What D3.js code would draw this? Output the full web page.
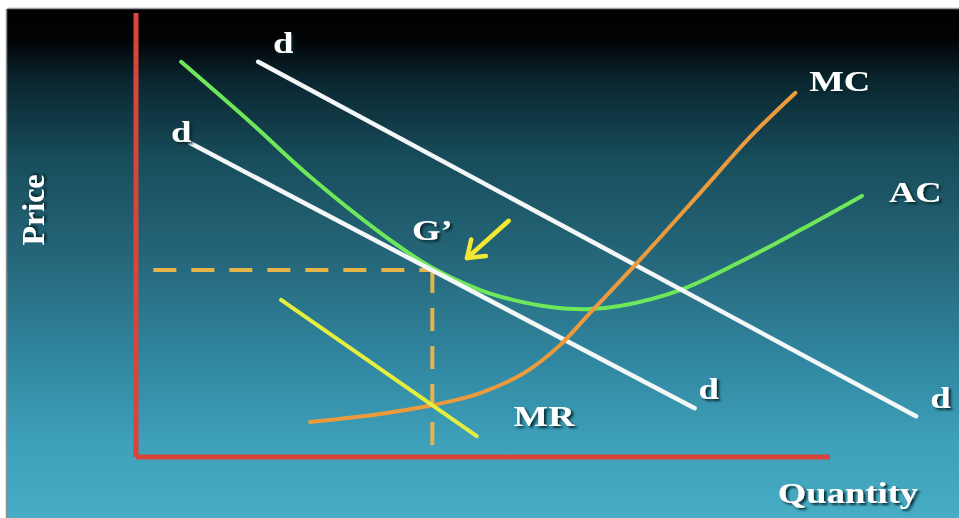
<!DOCTYPE html>
<html>
<head>
<meta charset="utf-8">
<script src="https://cdn.jsdelivr.net/npm/d3@7/dist/d3.min.js"></script>
<style>
  html, body { margin: 0; padding: 0; background: #ffffff; overflow: hidden; }
  svg { display: block; }
</style>
</head>
<body>
<svg id="chart" width="959" height="518"></svg>
<script>
// Monopolistic competition: long-run adjustment of demand toward the AC tangency point G'

// Demand curves (quantity, price)
const demandHigh = [[17.6, 89.0], [112.4, 9.2]];
const demandLow  = [[7.8, 70.7], [80.5, 11.0]];

// Marginal revenue for the lower demand curve
const marginalRevenue = [[20.9, 35.4], [49.1, 4.7]];

// Average cost (U-shaped)
const averageCost = [
  [6.5, 89.0], [16.4, 75.5], [25.1, 63.1], [35.2, 50.5], [42.7, 42.6],
  [49.6, 37.6], [54.3, 35.4], [59.7, 33.8], [65.0, 33.3], [69.7, 34.0],
  [78.4, 37.6], [87.0, 43.9], [95.7, 51.1], [104.6, 58.8]
];

// Marginal cost
const marginalCost = [
  [25.1, 7.9], [35.2, 9.7], [42.8, 11.7], [49.6, 14.4], [56.1, 19.1],
  [61.1, 25.2], [65.4, 32.4], [72.6, 44.4], [81.3, 59.5], [88.5, 72.1],
  [95.0, 82.0]
];

// Equilibrium G' (quantity, price)
const equilibrium = [42.7, 42.1];

// Arrow showing demand shifting inward
const shiftArrow = [[53.7, 53.2], [47.7, 44.8]];

// Curve labels: [text, quantity, price]
const curveLabels = [
  ["d", 21.2, 92.5], ["d", 6.5, 72.5],
  ["d", 82.5, 14.5], ["d", 115.9, 12.5],
  ["MC", 101.4, 84.0], ["AC", 112.3, 59.0],
  ["MR", 58.8, 8.5], ["G\u2019", 42.7, 50.5]
];

const axisTitles = { x: "Quantity", y: "Price" };

const W = 959, H = 518;
const svg = d3.select("#chart");

const x = d3.scaleLinear().domain([0, 100]).range([136, 830]);
const y = d3.scaleLinear().domain([0, 100]).range([457, 13]);

const defs = svg.append("defs");
const grad = defs.append("linearGradient")
  .attr("id", "bg").attr("x1", 0).attr("y1", 0).attr("x2", 0).attr("y2", 1);
[
  [0.00, "#000000"], [0.06, "#010304"], [0.14, "#0a2630"], [0.30, "#184e5c"],
  [0.50, "#26687c"], [0.70, "#3188a2"], [0.85, "#3ea0b9"], [1.00, "#48acc4"]
].forEach(([o, c]) => grad.append("stop").attr("offset", o).attr("stop-color", c));

const shadow = defs.append("filter").attr("id", "shadow")
  .attr("x", "-20%").attr("y", "-20%").attr("width", "140%").attr("height", "140%");
shadow.append("feDropShadow")
  .attr("dx", 2).attr("dy", 2).attr("stdDeviation", 1)
  .attr("flood-color", "#06202a").attr("flood-opacity", 0.9);

// Frame and background
svg.append("rect").attr("width", W).attr("height", H).attr("fill", "#ffffff");
svg.append("rect").attr("x", 7).attr("y", 9).attr("width", W - 7).attr("height", H - 9)
  .attr("fill", "url(#bg)");
svg.append("line").attr("x1", 6.5).attr("x2", 6.5).attr("y1", 9).attr("y2", H)
  .attr("stroke", "#8a8f92").attr("stroke-width", 1.5);
svg.append("line").attr("x1", 7).attr("x2", W).attr("y1", 8.5).attr("y2", 8.5)
  .attr("stroke", "#9a9fa2").attr("stroke-width", 1.5);

// Axes
const axisColor = "#d8453a";
svg.append("line")
  .attr("x1", x(0)).attr("x2", x(0)).attr("y1", y(100)).attr("y2", y(0))
  .attr("stroke", axisColor).attr("stroke-width", 5);
svg.append("line")
  .attr("x1", x(0)).attr("x2", x(100)).attr("y1", y(0)).attr("y2", y(0))
  .attr("stroke", axisColor).attr("stroke-width", 5);

// Dashed guides to G'
const guideColor = "#e6b54a";
svg.append("line")
  .attr("x1", x(2.5)).attr("x2", x(equilibrium[0])).attr("y1", y(equilibrium[1])).attr("y2", y(equilibrium[1]))
  .attr("stroke", guideColor).attr("stroke-width", 4).attr("stroke-dasharray", "23,15");
svg.append("line")
  .attr("x1", x(equilibrium[0])).attr("x2", x(equilibrium[0])).attr("y1", y(equilibrium[1])).attr("y2", y(0))
  .attr("stroke", guideColor).attr("stroke-width", 4).attr("stroke-dasharray", "23,15");

const straight = d3.line().x(d => x(d[0])).y(d => y(d[1]));
const smooth = d3.line().x(d => x(d[0])).y(d => y(d[1])).curve(d3.curveCatmullRom.alpha(0.5));

function drawCurve(data, gen, color, width) {
  svg.append("path").datum(data)
    .attr("d", gen).attr("fill", "none")
    .attr("stroke", color).attr("stroke-width", width)
    .attr("stroke-linecap", "round").attr("stroke-linejoin", "round");
}

drawCurve(averageCost, smooth, "#6ee85a", 4);
drawCurve(demandHigh, straight, "#f4f7f7", 4.5);
drawCurve(demandLow, straight, "#f4f7f7", 4.5);
drawCurve(marginalCost, smooth, "#eb9a3c", 4);
drawCurve(marginalRevenue, straight, "#e4ee3e", 4);

// Shift arrow
const [a0, a1] = shiftArrow;
const tx = x(a1[0]), ty = y(a1[1]);
const ang = Math.atan2(y(a0[1]) - ty, x(a0[0]) - tx);
const headLen = 19, spread = 0.62;
const arrowColor = "#f2e834";
svg.append("line")
  .attr("x1", x(a0[0])).attr("y1", y(a0[1])).attr("x2", tx).attr("y2", ty)
  .attr("stroke", arrowColor).attr("stroke-width", 4.5).attr("stroke-linecap", "round");
svg.append("path")
  .attr("d", `M${tx + headLen * Math.cos(ang - spread)},${ty + headLen * Math.sin(ang - spread)}`
           + `L${tx},${ty}`
           + `L${tx + headLen * Math.cos(ang + spread)},${ty + headLen * Math.sin(ang + spread)}`)
  .attr("fill", "none").attr("stroke", arrowColor).attr("stroke-width", 4.5)
  .attr("stroke-linecap", "round").attr("stroke-linejoin", "round");

// Labels: bold serif, slightly widened
const fontFamily = "'Liberation Serif', 'Times New Roman', serif";
const widen = 1.22;
svg.selectAll("text.curve").data(curveLabels).enter().append("text")
  .attr("class", "curve")
  .attr("transform", d => `translate(${x(d[1])},${y(d[2])}) scale(${widen},1)`)
  .attr("text-anchor", "middle").attr("dominant-baseline", "middle")
  .attr("font-family", fontFamily).attr("font-weight", "bold").attr("font-size", 30)
  .attr("fill", "#ffffff").attr("filter", "url(#shadow)")
  .text(d => d[0]);

svg.append("text")
  .attr("transform", `translate(848,496) scale(${widen},1)`)
  .attr("text-anchor", "middle").attr("dominant-baseline", "middle")
  .attr("font-family", fontFamily).attr("font-weight", "bold").attr("font-size", 30)
  .attr("fill", "#ffffff").attr("filter", "url(#shadow)")
  .text(axisTitles.x);

svg.append("text")
  .attr("transform", "translate(37,210) rotate(-90)")
  .attr("text-anchor", "middle").attr("dominant-baseline", "middle")
  .attr("font-family", fontFamily).attr("font-weight", "bold").attr("font-size", 32)
  .attr("fill", "#ffffff").attr("filter", "url(#shadow)")
  .text(axisTitles.y);
</script>
</body>
</html>
